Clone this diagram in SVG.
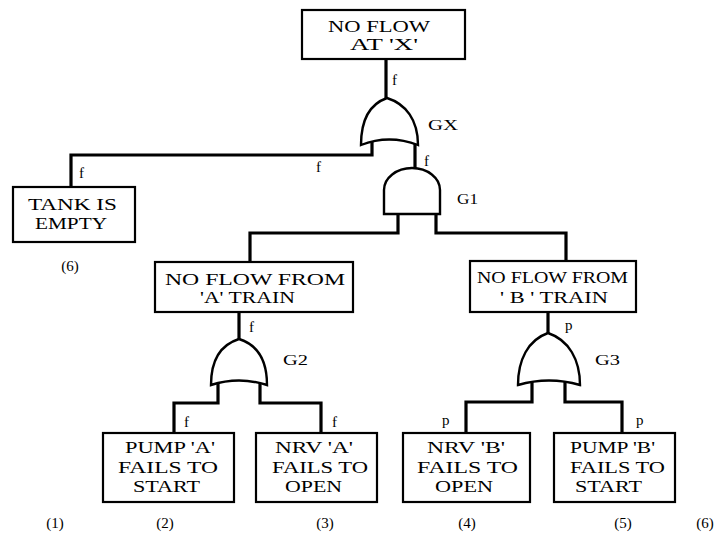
<svg xmlns="http://www.w3.org/2000/svg" width="723" height="533" viewBox="0 0 723 533">
<style>
.box{fill:#fff;stroke:#000;stroke-width:2.2}
.gate{fill:#fff;stroke:#000;stroke-width:2.4}
.wire{fill:none;stroke:#000;stroke-width:3.2;stroke-linejoin:miter}
.t{font-family:"Liberation Serif","DejaVu Serif",serif;font-size:17px;fill:#000}
.l{font-family:"Liberation Serif","DejaVu Serif",serif;font-size:15px;fill:#000}
</style>
<rect width="723" height="533" fill="#fff"/>
<g id="connectors">
<path class="wire" d="M386,59 V99"/>
<path class="wire" d="M372,142 V155 H71 V187"/>
<path class="wire" d="M415,143 V169"/>
<path class="wire" d="M398,213 V233 H250 V262"/>
<path class="wire" d="M436,213 V233 H566 V261"/>
<path class="wire" d="M239,312 V340"/>
<path class="wire" d="M218,382 V403 H174 V433"/>
<path class="wire" d="M260,382 V403 H321 V433"/>
<path class="wire" d="M548,312 V334"/>
<path class="wire" d="M532,382 V402 H466 V433"/>
<path class="wire" d="M565,382 V402 H622 V433"/>
</g>
<g id="top">
<rect class="box" x="302" y="10" width="163" height="49"/>
<text class="t" x="328" y="32" textLength="102" lengthAdjust="spacingAndGlyphs">NO FLOW</text>
<text class="t" x="350" y="50" textLength="68" lengthAdjust="spacingAndGlyphs">AT  'X'</text>
<text class="l" x="392" y="85">f</text>
</g>
<g id="GX">
<path class="gate" d="M361,145 C361,120 370,104 387,98 C406,104 418,120 418,145 Q389,134 361,145 Z"/>
<text class="l" x="428" y="130" textLength="30" lengthAdjust="spacingAndGlyphs">GX</text>
<text class="l" x="316" y="172">f</text>
<text class="l" x="424" y="166">f</text>
</g>
<g id="tank">
<rect class="box" x="13" y="187" width="122" height="55"/>
<text class="t" x="28" y="210" textLength="89" lengthAdjust="spacingAndGlyphs">TANK IS</text>
<text class="t" x="35" y="229" textLength="72" lengthAdjust="spacingAndGlyphs">EMPTY</text>
<text class="l" x="79" y="178">f</text>
<text class="l" x="70" y="271" text-anchor="middle">(6)</text>
</g>
<g id="G1">
<path class="gate" d="M384,214 V190 A28,22 0 0 1 440,190 V214 Z"/>
<text class="l" x="457" y="204" textLength="21" lengthAdjust="spacingAndGlyphs">G1</text>
</g>
<g id="trainA">
<rect class="box" x="155" y="262" width="198" height="50"/>
<text class="t" x="165" y="285" textLength="180" lengthAdjust="spacingAndGlyphs">NO FLOW  FROM</text>
<text class="t" x="200" y="303" textLength="95" lengthAdjust="spacingAndGlyphs">'A' TRAIN</text>
<text class="l" x="249" y="332">f</text>
</g>
<g id="G2">
<path class="gate" d="M211,385 C211,360 220,345 239,339 C258,345 267,360 267,385 Q239,376 211,385 Z"/>
<text class="l" x="283" y="365" textLength="25" lengthAdjust="spacingAndGlyphs">G2</text>
<text class="l" x="184" y="427">f</text>
<text class="l" x="332" y="427">f</text>
</g>
<g id="trainB">
<rect class="box" x="470" y="261" width="166" height="51"/>
<text class="t" x="477" y="283" textLength="151" lengthAdjust="spacingAndGlyphs">NO FLOW FROM</text>
<text class="t" x="500" y="303" textLength="108" lengthAdjust="spacingAndGlyphs">' B ' TRAIN</text>
<text class="l" x="565" y="330">p</text>
</g>
<g id="G3">
<path class="gate" d="M518,385 C518,360 528,340 548,333 C569,340 580,360 580,385 Q549,376 518,385 Z"/>
<text class="l" x="595" y="365" textLength="25" lengthAdjust="spacingAndGlyphs">G3</text>
<text class="l" x="442" y="425">p</text>
<text class="l" x="636" y="425">p</text>
</g>
<g id="pumpA">
<rect class="box" x="103" y="433" width="131" height="69"/>
<text class="t" x="125" y="453" textLength="90" lengthAdjust="spacingAndGlyphs">PUMP 'A'</text>
<text class="t" x="118" y="473" textLength="100" lengthAdjust="spacingAndGlyphs">FAILS TO</text>
<text class="t" x="133" y="492" textLength="67" lengthAdjust="spacingAndGlyphs">START</text>
</g>
<g id="nrvA">
<rect class="box" x="256" y="433" width="121" height="69"/>
<text class="t" x="275" y="453" textLength="78" lengthAdjust="spacingAndGlyphs">NRV 'A'</text>
<text class="t" x="272" y="473" textLength="96" lengthAdjust="spacingAndGlyphs">FAILS TO</text>
<text class="t" x="285" y="492" textLength="57" lengthAdjust="spacingAndGlyphs">OPEN</text>
</g>
<g id="nrvB">
<rect class="box" x="403" y="433" width="127" height="69"/>
<text class="t" x="427" y="453" textLength="78" lengthAdjust="spacingAndGlyphs">NRV 'B'</text>
<text class="t" x="417" y="473" textLength="101" lengthAdjust="spacingAndGlyphs">FAILS TO</text>
<text class="t" x="435" y="492" textLength="58" lengthAdjust="spacingAndGlyphs">OPEN</text>
</g>
<g id="pumpB">
<rect class="box" x="554" y="433" width="121" height="69"/>
<text class="t" x="570" y="453" textLength="85" lengthAdjust="spacingAndGlyphs">PUMP 'B'</text>
<text class="t" x="570" y="473" textLength="95" lengthAdjust="spacingAndGlyphs">FAILS TO</text>
<text class="t" x="575" y="492" textLength="67" lengthAdjust="spacingAndGlyphs">START</text>
</g>
<g id="numbers">
<text class="l" x="55" y="528" text-anchor="middle">(1)</text>
<text class="l" x="165" y="528" text-anchor="middle">(2)</text>
<text class="l" x="325" y="528" text-anchor="middle">(3)</text>
<text class="l" x="467" y="528" text-anchor="middle">(4)</text>
<text class="l" x="623" y="528" text-anchor="middle">(5)</text>
<text class="l" x="705" y="528" text-anchor="middle">(6)</text>
</g>
</svg>
